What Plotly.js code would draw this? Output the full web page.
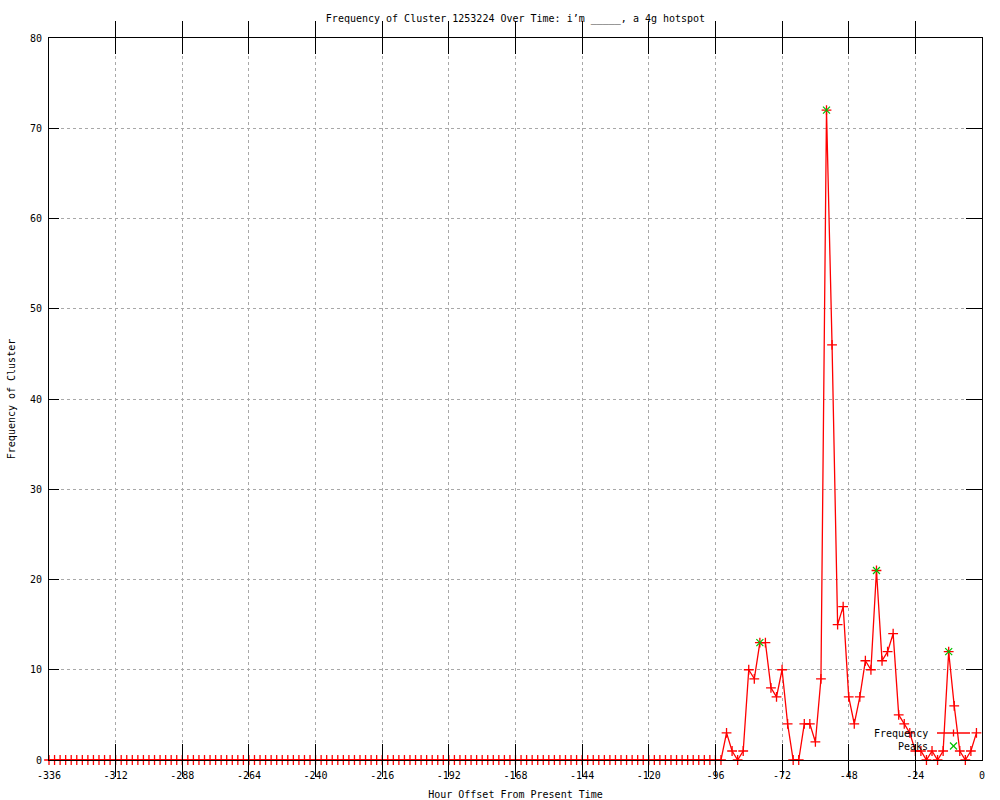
<!DOCTYPE html>
<html>
<head>
<meta charset="utf-8">
<script src="https://cdn.plot.ly/plotly-3.0.1.min.js"></script>
<style>html,body{margin:0;padding:0;background:#fff;}#chart{width:1000px;height:800px;}</style>
</head>
<body>
<div id="chart"></div>
<script>
// ---- data ----
const hours = [-336,-334,-332,-330,-328,-326,-324,-322,-320,-318,-316,-314,-312,-310,-308,-306,-304,-302,-300,-298,-296,-294,-292,-290,-288,-286,-284,-282,-280,-278,-276,-274,-272,-270,-268,-266,-264,-262,-260,-258,-256,-254,-252,-250,-248,-246,-244,-242,-240,-238,-236,-234,-232,-230,-228,-226,-224,-222,-220,-218,-216,-214,-212,-210,-208,-206,-204,-202,-200,-198,-196,-194,-192,-190,-188,-186,-184,-182,-180,-178,-176,-174,-172,-170,-168,-166,-164,-162,-160,-158,-156,-154,-152,-150,-148,-146,-144,-142,-140,-138,-136,-134,-132,-130,-128,-126,-124,-122,-120,-118,-116,-114,-112,-110,-108,-106,-104,-102,-100,-98,-96,-94,-92,-90,-88,-86,-84,-82,-80,-78,-76,-74,-72,-70,-68,-66,-64,-62,-60,-58,-56,-54,-52,-50,-48,-46,-44,-42,-40,-38,-36,-34,-32,-30,-28,-26,-24,-22,-20,-18,-16,-14,-12,-10,-8,-6,-4,-2];
const frequency = [0,0,0,0,0,0,0,0,0,0,0,0,0,0,0,0,0,0,0,0,0,0,0,0,0,0,0,0,0,0,0,0,0,0,0,0,0,0,0,0,0,0,0,0,0,0,0,0,0,0,0,0,0,0,0,0,0,0,0,0,0,0,0,0,0,0,0,0,0,0,0,0,0,0,0,0,0,0,0,0,0,0,0,0,0,0,0,0,0,0,0,0,0,0,0,0,0,0,0,0,0,0,0,0,0,0,0,0,0,0,0,0,0,0,0,0,0,0,0,0,0,0,
  3,1,0,1,10,9,13,13,8,7,10,4,0,0,4,4,2,9,72,46,15,17,7,4,7,11,10,21,11,12,14,5,4,3,1,1,0,1,0,1,12,6,1,0,1,3];
const peakHours = [-80,-56,-38,-12];
const peakValues = [13,72,21,12];
const xTickVals = [-336,-312,-288,-264,-240,-216,-192,-168,-144,-120,-96,-72,-48,-24,0];
const xTickText = ['-336','-312','-288','-264','-240','-216','-192','-168','-144','-120','-96','-72','-48','-24','0'];
const yTickVals = [0,10,20,30,40,50,60,70,80];
const seriesNames = ['Frequency','Peaks'];
const titleText = 'Frequency of Cluster 1253224 Over Time: i\u2019m _____, a 4g hotspot';

// ---- styling ----
const FONT = 'DejaVu Sans Mono, monospace';
const L = 49, R = 982, T = 38, B = 760;
const pxX = x => (x - L) / (R - L);
const pxY = y => (B - y) / (B - T);

const traces = [
  {x: hours, y: frequency, type: 'scatter', mode: 'lines+markers', name: seriesNames[0],
   line: {color: '#ff0000', width: 1.3},
   marker: {symbol: 'cross-thin', size: 7, line: {color: '#ff0000', width: 1.3}},
   cliponaxis: false, showlegend: false, hoverinfo: 'skip'},
  {x: peakHours, y: peakValues, type: 'scatter', mode: 'markers', name: seriesNames[1],
   marker: {symbol: 'x-thin', size: 7, line: {color: '#00c000', width: 1.2}},
   cliponaxis: false, showlegend: false, hoverinfo: 'skip'},
  {x: [null], y: [null], yaxis: 'y2', type: 'scatter', mode: 'markers', showlegend: false, hoverinfo: 'skip'}
];

const shapes = [
  {type: 'line', xref: 'paper', yref: 'paper', x0: pxX(937), x1: pxX(970), y0: pxY(733), y1: pxY(733), line: {color: '#ff0000', width: 1.3}},
  {type: 'line', xref: 'paper', yref: 'paper', x0: pxX(953.5), x1: pxX(953.5), y0: pxY(729.5), y1: pxY(736.5), line: {color: '#ff0000', width: 1.3}},
  {type: 'line', xref: 'paper', yref: 'paper', x0: pxX(950), x1: pxX(957), y0: pxY(742.5), y1: pxY(749.5), line: {color: '#00c000', width: 1.2}},
  {type: 'line', xref: 'paper', yref: 'paper', x0: pxX(950), x1: pxX(957), y0: pxY(749.5), y1: pxY(742.5), line: {color: '#00c000', width: 1.2}}
];

const annotations = [
  {xref: 'paper', yref: 'paper', x: pxX(930), y: pxY(733), text: seriesNames[0], showarrow: false, xanchor: 'right', yanchor: 'middle', font: {family: FONT, size: 10, color: '#000'}},
  {xref: 'paper', yref: 'paper', x: pxX(930), y: pxY(746), text: seriesNames[1], showarrow: false, xanchor: 'right', yanchor: 'middle', font: {family: FONT, size: 10, color: '#000'}}
];

const axisCommon = {
  showline: true, linecolor: '#000', linewidth: 1,
  ticks: 'inside', tickcolor: '#000', tickwidth: 1,
  showgrid: true, gridcolor: '#a8a8a8', griddash: 'dot', gridwidth: 1,
  zeroline: false, tickfont: {family: FONT, size: 10, color: '#000'}
};

const layout = {
  width: 1000, height: 800,
  margin: {l: L, r: 1000 - R, t: T, b: 800 - B, pad: 0},
  paper_bgcolor: '#fff', plot_bgcolor: '#fff',
  font: {family: FONT, size: 10, color: '#000'},
  title: {text: titleText, font: {family: FONT, size: 10, color: '#000'},
          x: 0.5, xref: 'paper', y: 1 - 18 / 800, yref: 'container', yanchor: 'middle'},
  xaxis: Object.assign({}, axisCommon, {
    range: [-336, 0], tickmode: 'array', tickvals: xTickVals, ticktext: xTickText,
    ticklen: 16, mirror: 'allticks', ticklabelstandoff: 6,
    title: {text: 'Hour Offset From Present Time', font: {family: FONT, size: 10, color: '#000'}, standoff: 10}
  }),
  yaxis: Object.assign({}, axisCommon, {
    range: [0, 80], tickmode: 'array', tickvals: yTickVals, ticklen: 10, mirror: false, ticklabelstandoff: 4,
    title: {text: 'Frequency of Cluster', font: {family: FONT, size: 10, color: '#000'}, standoff: 12}
  }),
  yaxis2: {
    overlaying: 'y', side: 'right', range: [0, 80], tickmode: 'array', tickvals: yTickVals,
    showline: true, linecolor: '#000', linewidth: 1, ticks: 'inside', ticklen: 16, tickcolor: '#000',
    showticklabels: false, showgrid: false, zeroline: false
  },
  showlegend: false,
  shapes: shapes,
  annotations: annotations
};

Plotly.newPlot('chart', traces, layout, {staticPlot: true, displayModeBar: false});
</script>
</body>
</html>
